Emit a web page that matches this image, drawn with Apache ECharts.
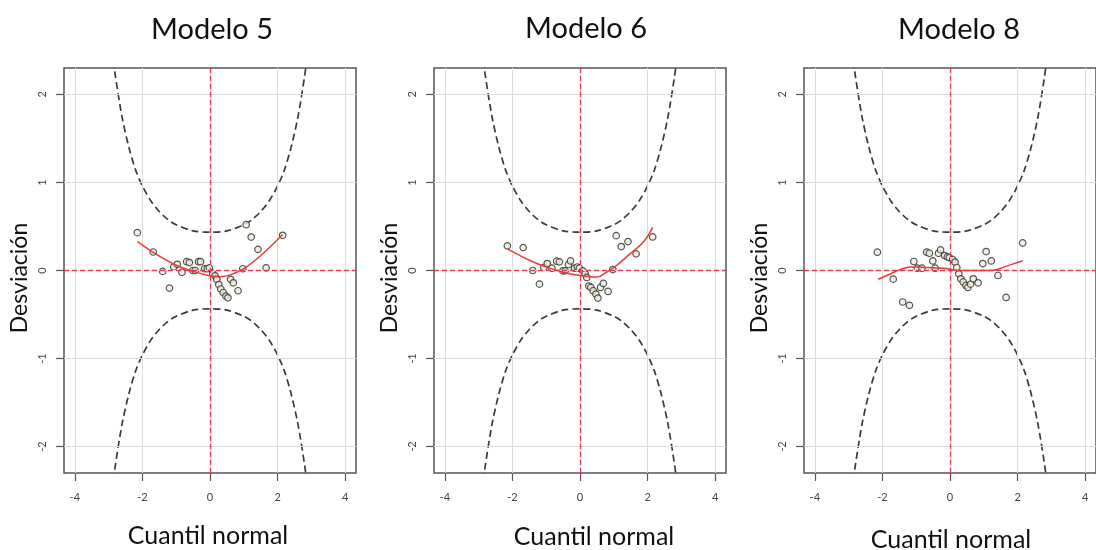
<!DOCTYPE html>
<html><head><meta charset="utf-8">
<title>Worm plots - Modelos 5, 6 y 8</title>
<script src="https://cdn.jsdelivr.net/npm/echarts@6/dist/echarts.min.js"></script>
<style>
  body { margin: 0; background: #fff; }
  #chart { width: 1096px; height: 550px; }
</style>
</head>
<body>
<div id="chart"></div>
<script type="text/javascript">
// tick labels
var xTicks = [-4, -2, 0, 2, 4];
var yTicks = [-2, -1, 0, 1, 2];
var titles = ['Modelo 5', 'Modelo 6', 'Modelo 8'];

// normal quantiles (x of the points, same in the three panels)
var quantiles = [-2.15,-1.68,-1.40,-1.20,-1.07,-0.97,-0.83,-0.69,-0.61,-0.51,-0.44,-0.34,-0.28,-0.16,-0.08,-0.02,
  0.08,0.15,0.20,0.26,0.32,0.39,0.47,0.53,0.61,0.69,0.83,0.97,1.07,1.22,1.42,1.66,2.15];

// deviations
var dev5 = [0.43,0.21,-0.01,-0.20,0.04,0.07,-0.02,0.10,0.09,0.00,0.00,0.10,0.10,0.02,0.02,0.03,
  -0.03,-0.06,-0.10,-0.16,-0.21,-0.25,-0.29,-0.31,-0.10,-0.14,-0.23,0.02,0.52,0.38,0.24,0.03,0.40];
var dev6 = [0.28,0.26,0.00,-0.155,0.034,0.079,0.026,0.106,0.098,-0.004,-0.004,0.068,0.109,0.026,0.04,0.026,
  -0.004,-0.038,-0.079,-0.177,-0.192,-0.23,-0.268,-0.313,-0.192,-0.147,-0.238,0.011,0.396,0.272,0.328,0.189,0.381];
var dev8 = [0.208,-0.098,-0.358,-0.396,0.102,0.026,0.026,0.208,0.196,0.109,0.026,0.196,0.234,0.170,0.155,0.147,
  0.125,0.094,0.034,-0.038,-0.094,-0.13,-0.17,-0.192,-0.155,-0.094,-0.140,0.079,0.215,0.109,-0.057,-0.306,0.313];

// red fitted curves
var fit5X = [-2.15,-1.66,-1.0,-0.5,0,0.3,0.6,1.0,1.5,2.15];
var fit5Y = [0.33,0.20,0.06,-0.01,-0.06,-0.07,-0.05,0.02,0.17,0.41];
var fit6X = [-2.15,-1.48,-0.99,-0.49,0,0.49,0.79,1.08,1.48,1.87,2.15];
var fit6Y = [0.245,0.113,0.038,-0.019,-0.057,-0.075,-0.019,0.057,0.189,0.32,0.49];
var fit8X = [-2.13,-1.77,-1.48,-1.18,-0.69,-0.2,0.2,0.69,1.28,1.67,2.15];
var fit8Y = [-0.10,-0.04,0.01,0.04,0.034,0.026,0.004,0,0.004,0.05,0.11];

// dashed confidence bands (same in all panels)
var bandX = [-2.9,-2.8,-2.6,-2.4,-2.2,-2.0,-1.75,-1.5,-1.25,-1.0,-0.5,0,0.5,1.0,1.25,1.5,1.75,2.0,2.2,2.4,2.6,2.8,2.9];
var bandUp = [2.51,2.21,1.74,1.40,1.14,0.96,0.79,0.67,0.58,0.52,0.45,0.435,0.45,0.52,0.58,0.67,0.79,0.96,1.14,1.40,1.74,2.21,2.51];
var bandLow = [-2.51,-2.21,-1.74,-1.40,-1.14,-0.96,-0.79,-0.67,-0.58,-0.52,-0.45,-0.435,-0.45,-0.52,-0.58,-0.67,-0.79,-0.96,-1.14,-1.40,-1.74,-2.21,-2.51];

var devs = [dev5, dev6, dev8];
var fitsX = [fit5X, fit6X, fit8X];
var fitsY = [fit5Y, fit6Y, fit8Y];

function zip(a, b) { return a.map(function (v, i) { return [v, b[i]]; }); }

var FONT = 'Lato';
var panelLeft = [64, 434, 804];
var panelW = 292, panelTop = 68, panelH = 405;
var titleX = [212, 586, 959], titleY = [30, 29, 30];
var xlabX = [208, 594, 951], xlabY = [536, 537, 540];
var ylabX = [20, 390, 760];

var grids = [], xAxes = [], yAxes = [], series = [], graphics = [];

for (var p = 0; p < 3; p++) {
  grids.push({ left: panelLeft[p], top: panelTop, width: panelW, height: panelH,
    show: true, borderColor: '#555', borderWidth: 1.5, backgroundColor: 'transparent' });
  xAxes.push({ type: 'value', gridIndex: p, min: -4.32, max: 4.32,
    axisLine: { show: false, onZero: false },
    axisTick: { show: true, customValues: xTicks, length: 8, lineStyle: { color: '#555', width: 1.2 } },
    axisLabel: { customValues: xTicks, fontSize: 11, color: '#444', margin: 19, fontFamily: FONT },
    splitLine: { show: false } });
  yAxes.push({ type: 'value', gridIndex: p, min: -2.3, max: 2.3,
    axisLine: { show: false, onZero: false },
    axisTick: { show: true, customValues: yTicks, length: 8, lineStyle: { color: '#555', width: 1.2 } },
    axisLabel: { customValues: yTicks, fontSize: 11, color: '#444', margin: 16, rotate: 90, fontFamily: FONT },
    splitLine: { show: false } });

  // grid lines
  series.push({ type: 'line', xAxisIndex: p, yAxisIndex: p, data: [], z: 1, silent: true,
    markLine: { silent: true, symbol: ['none', 'none'], label: { show: false }, animation: false,
      lineStyle: { color: '#dcdcdc', width: 1, type: 'solid' },
      data: xTicks.map(function (v) { return { xAxis: v }; })
        .concat(yTicks.map(function (v) { return { yAxis: v }; })) } });
  // red reference lines
  series.push({ type: 'line', xAxisIndex: p, yAxisIndex: p, data: [], z: 2, silent: true,
    markLine: { silent: true, symbol: ['none', 'none'], label: { show: false }, animation: false,
      lineStyle: { color: '#e23a55', width: 1.3, type: [5, 3] },
      data: [{ xAxis: 0 }, { yAxis: 0 }] } });
  // bands
  [bandUp, bandLow].forEach(function (b) {
    series.push({ type: 'line', xAxisIndex: p, yAxisIndex: p, data: zip(bandX, b), z: 3,
      smooth: 0.3, showSymbol: false, clip: true, silent: true,
      lineStyle: { color: '#3a3a3a', width: 1.7, type: [7, 4] } });
  });
  // points
  series.push({ type: 'scatter', xAxisIndex: p, yAxisIndex: p, data: zip(quantiles, devs[p]), z: 4,
    symbol: 'circle', symbolSize: 6.5,
    itemStyle: { color: '#eceed8', borderColor: '#2a2a2a', borderWidth: 1.2 } });
  // fitted curve
  series.push({ type: 'line', xAxisIndex: p, yAxisIndex: p, data: zip(fitsX[p], fitsY[p]), z: 5,
    smooth: 0.4, showSymbol: false, silent: true,
    lineStyle: { color: '#ea3b3b', width: 1.5 } });

  graphics.push({ type: 'text', x: titleX[p], y: titleY[p],
    style: { text: titles[p], font: '29px ' + FONT, fill: '#111', align: 'center', verticalAlign: 'middle' } });
  graphics.push({ type: 'text', x: xlabX[p], y: xlabY[p],
    style: { text: 'Cuantil normal', font: '25px ' + FONT, fill: '#111', align: 'center', verticalAlign: 'middle' } });
  graphics.push({ type: 'text', x: ylabX[p], y: 278, rotation: Math.PI / 2,
    style: { text: 'Desviación', font: '23px ' + FONT, fill: '#111', align: 'center', verticalAlign: 'middle' } });
}

var chart = echarts.init(document.getElementById('chart'));
chart.setOption({
  animation: false,
  backgroundColor: '#fff',
  grid: grids,
  xAxis: xAxes,
  yAxis: yAxes,
  series: series,
  graphic: graphics
});
</script>
</body></html>
